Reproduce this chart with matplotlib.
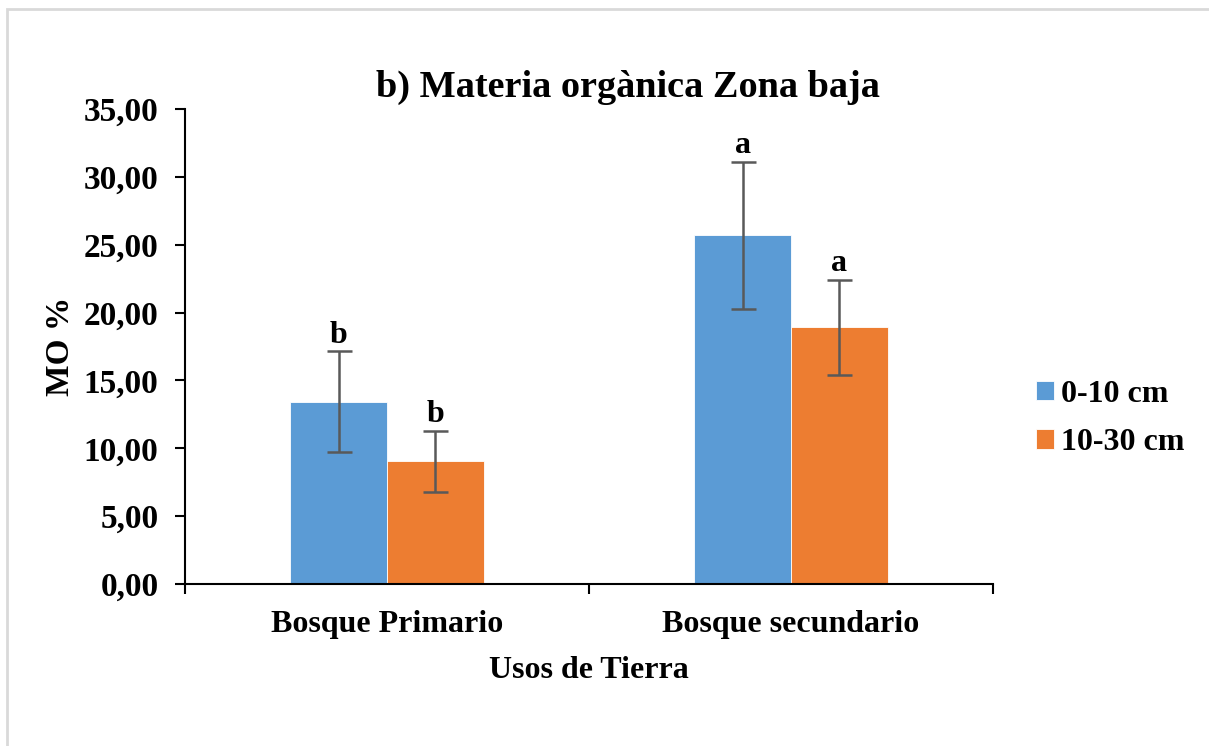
import matplotlib.pyplot as plt
import numpy as np
from matplotlib.ticker import FuncFormatter
from matplotlib.patches import Rectangle

# Data
categories = ['Bosque Primario', 'Bosque secundario']
series = ['0-10 cm', '10-30 cm']
mo_0_10 = [13.43, 25.69]
mo_10_30 = [9.05, 18.92]
err_0_10 = [3.74, 5.42]
err_10_30 = [2.24, 3.50]
letters_0_10 = ['b', 'a']
letters_10_30 = ['b', 'a']

plt.rcParams['font.family'] = ['Liberation Serif', 'DejaVu Serif']
plt.rcParams['font.weight'] = 'bold'

fig = plt.figure(figsize=(12.09, 7.46), dpi=100)
ax = fig.add_axes([185 / 1209, 1 - 584 / 746, (993 - 185) / 1209, (584 - 109) / 746])

# light frame around the chart area
fig.patches.append(Rectangle((7 / 1209, -0.05), 1.1, 1 - 9 / 746 + 0.05, transform=fig.transFigure,
                             fill=False, edgecolor='#d9d9d9', linewidth=2))

x = np.arange(len(categories))
w = 0.239
blue, orange = '#5B9BD5', '#ED7D31'
ax.bar(x - w / 2, mo_0_10, w, color=blue, edgecolor='white', linewidth=0.6, label=series[0])
ax.bar(x + w / 2, mo_10_30, w, color=orange, edgecolor='white', linewidth=0.6, label=series[1])
ax.errorbar(x - w / 2, mo_0_10, yerr=err_0_10, fmt='none', ecolor='#595959', elinewidth=1.8, capsize=9, capthick=1.8)
ax.errorbar(x + w / 2, mo_10_30, yerr=err_10_30, fmt='none', ecolor='#595959', elinewidth=1.8, capsize=9, capthick=1.8)

# significance letters
for xs, vals, errs, labs in [(x - w / 2, mo_0_10, err_0_10, letters_0_10),
                             (x + w / 2, mo_10_30, err_10_30, letters_10_30)]:
    for xi, v, e, lab in zip(xs, vals, errs, labs):
        ax.annotate(lab, (xi, v + e), xytext=(0, 1), textcoords='offset points',
                    ha='center', va='bottom', fontsize=23, fontweight='bold')

ax.set_xlim(-0.5, 1.5)
ax.set_ylim(0, 35)
ax.set_yticks(np.arange(0, 35.1, 5))
ax.yaxis.set_major_formatter(FuncFormatter(lambda v, p: f'{v:.2f}'.replace('.', ',')))
ax.set_xticks([-0.5, 0.5, 1.5])
ax.set_xticklabels(['', '', ''])
ax.set_xticks(x, minor=True)
ax.set_xticklabels(categories, minor=True, fontsize=23, fontweight='bold')
ax.tick_params(axis='x', which='minor', length=0, pad=19)
ax.tick_params(axis='x', which='major', length=7, width=1.5, direction='out')
ax.tick_params(axis='y', length=7, width=1.5, direction='out', labelsize=24, pad=12)
for t in ax.get_yticklabels():
    t.set_fontweight('bold')

for s in ['top', 'right']:
    ax.spines[s].set_visible(False)
ax.spines['left'].set_linewidth(1.5)
ax.spines['bottom'].set_linewidth(1.5)

ax.set_ylabel('MO %', fontsize=24, fontweight='bold', labelpad=6)
ax.set_xlabel('Usos de Tierra', fontsize=23, fontweight='bold', labelpad=12)
fig.text(628 / 1209, 1 - 87 / 746, 'b) Materia orgànica Zona baja', fontsize=27.5,
         fontweight='bold', ha='center', va='center')

ax.legend(loc='center left', bbox_to_anchor=(1.018, 0.348), frameon=False,
          handlelength=0.55, handleheight=0.55, handletextpad=0.22, labelspacing=0.6,
          prop={'weight': 'bold', 'size': 23})

plt.savefig('out.png', dpi=100)
